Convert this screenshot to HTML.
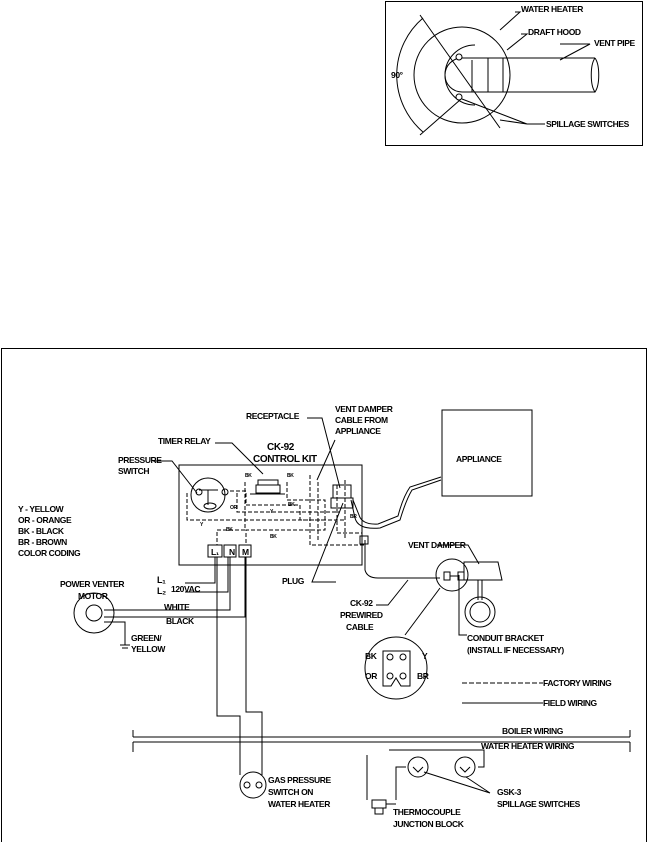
<!DOCTYPE html>
<html><head><meta charset="utf-8"><style>
html,body{margin:0;padding:0;background:#fff}
svg{display:block}
text{font-family:"Liberation Sans",sans-serif;font-weight:bold;font-size:8.5px;fill:#000;letter-spacing:-0.4px}
</style></head><body>
<svg width="649" height="842" viewBox="0 0 649 842" xmlns="http://www.w3.org/2000/svg" fill="none" stroke="#000" stroke-width="1">
<!-- top inset -->
<rect x="385.5" y="1.5" width="257" height="144"/>
<circle cx="462" cy="75" r="48"/>
<path d="M475 45 A30 30 0 1 0 475 105"/>
<path d="M472 60 L472 92 M462 58 A17 17 0 0 0 462 92 M462 58 H595 M462 92 H595 M488 58 V92 M503 58 V92"/>
<path d="M595 58 C590 65 590 85 595 92 C600 85 600 65 595 58"/>
<path d="M420 15 L500 128 M420 135 L460 100"/>
<path d="M423 18 A75 75 0 0 0 423 132"/>
<circle cx="459" cy="57" r="3" fill="#fff"/><circle cx="459" cy="97" r="3" fill="#fff"/>
<path d="M462 99 L527 124 L500 120 M527 124 H545 M515 12 H520 L500 30 M521 34 H527 L507 50 M560 44 H590 L560 60"/>
<g stroke="none">
<text x="521" y="12">WATER HEATER</text>
<text x="528" y="35">DRAFT HOOD</text>
<text x="594" y="46">VENT PIPE</text>
<text x="546" y="127">SPILLAGE SWITCHES</text>
<text x="391" y="78">90°</text>
</g>
<!-- main frame -->
<path d="M1.5 842 V348.5 H646.5 V842"/>
<!-- control kit -->
<rect x="179" y="465" width="183" height="100"/>
<rect x="442" y="410" width="90" height="86"/>
<g stroke="none">
<text x="246" y="419">RECEPTACLE</text>
<text x="335" y="412">VENT DAMPER</text>
<text x="335" y="423">CABLE FROM</text>
<text x="335" y="434">APPLIANCE</text>
<text x="158" y="444">TIMER RELAY</text>
<text x="267" y="450" style="font-size:10px">CK-92</text>
<text x="253" y="462" style="font-size:10px">CONTROL KIT</text>
<text x="118" y="463">PRESSURE</text>
<text x="118" y="474">SWITCH</text>
<text x="456" y="462">APPLIANCE</text>
<text x="18" y="512">Y - YELLOW</text>
<text x="18" y="523">OR - ORANGE</text>
<text x="18" y="534">BK - BLACK</text>
<text x="18" y="545">BR - BROWN</text>
<text x="18" y="556">COLOR CODING</text>
<text x="60" y="587">POWER VENTER</text>
<text x="78" y="599">MOTOR</text>
<text x="157" y="583" style="font-size:9px">L₁</text>
<text x="157" y="594" style="font-size:9px">L₂</text>
<text x="171" y="592">120VAC</text>
<text x="164" y="610">WHITE</text>
<text x="166" y="624">BLACK</text>
<text x="131" y="641">GREEN/</text>
<text x="131" y="652">YELLOW</text>
<text x="282" y="584">PLUG</text>
<text x="408" y="548">VENT DAMPER</text>
<text x="350" y="606">CK-92</text>
<text x="340" y="618">PREWIRED</text>
<text x="346" y="630">CABLE</text>
<text x="467" y="641">CONDUIT BRACKET</text>
<text x="467" y="653">(INSTALL IF NECESSARY)</text>
<text x="543" y="686">FACTORY WIRING</text>
<text x="543" y="706">FIELD WIRING</text>
<text x="502" y="734">BOILER WIRING</text>
<text x="481" y="749">WATER HEATER WIRING</text>
<text x="268" y="783">GAS PRESSURE</text>
<text x="268" y="795">SWITCH ON</text>
<text x="268" y="807">WATER HEATER</text>
<text x="393" y="815">THERMOCOUPLE</text>
<text x="393" y="827">JUNCTION BLOCK</text>
<text x="497" y="795">GSK-3</text>
<text x="497" y="807">SPILLAGE SWITCHES</text>
<text x="365" y="659">BK</text><text x="422" y="659">Y</text>
<text x="365" y="679">OR</text><text x="417" y="679">BR</text>
<text x="211" y="555">L₁</text><text x="229" y="555">N</text><text x="242" y="555">M</text>
<text x="245" y="477" style="font-size:5px">BK</text><text x="287" y="477" style="font-size:5px">BK</text>
<text x="230" y="509" style="font-size:5px">OR</text><text x="288" y="506" style="font-size:5px">BK</text>
<text x="270" y="513" style="font-size:5px">Y</text><text x="200" y="526" style="font-size:5px">Y</text>
<text x="226" y="531" style="font-size:5px">BK</text><text x="270" y="538" style="font-size:5px">BK</text>
<text x="350" y="518" style="font-size:5px">BR</text>
</g>
<!-- leaders -->
<path d="M307 418 H322 L340 488 M335 440 L317 480 M215 443 H232 L263 474 M153 461 H172 L197 493 M336 582 H312 L343 503 M437 545 H468 L479 564 M376 605 H388 L408 580"/>
<!-- pressure switch -->
<circle cx="208" cy="495" r="17"/>
<path d="M199 490 L218 490 M208 490 V505"/><ellipse cx="210" cy="506" rx="6" ry="3"/>
<circle cx="199" cy="492" r="3"/><circle cx="225" cy="492" r="3"/>
<!-- relay -->
<rect x="258" y="480" width="20" height="5"/><rect x="256" y="485" width="24" height="8"/><path d="M250 494 H285"/>
<!-- receptacle -->
<rect x="333" y="485" width="18" height="13"/><rect x="331" y="498" width="22" height="10"/>
<!-- terminals -->
<rect x="208" y="545" width="14" height="12"/><rect x="224" y="545" width="12" height="12"/><rect x="239" y="545" width="12" height="12"/>
<!-- dashed wiring -->
<g stroke-dasharray="4,2">
<path d="M187 493 V520 H345 M245 482 V530 H217 V545 M287 482 V500 H325 V530 H246 V545 M237 493 V512 H340 M230 491 H246 V505 H300 V520 H325 M310 475 V545 H365 M318 482 V540 M345 480 V540 M337 485 V533 H362"/>
</g>
<!-- cables -->
<path d="M351 500 L355 518 Q358 530 380 528 L400 520 Q406 500 412 490 L441 480"/>
<path d="M353 500 L359 515 Q362 525 378 524 L398 516 Q403 497 410 487 L441 477"/>
<path d="M365 540 V570 Q367 578 378 578 H440"/>
<rect x="360" y="536" width="8" height="8"/>
<!-- vent damper -->
<circle cx="452" cy="575" r="16"/>
<rect x="444" y="572" width="6" height="8"/><path d="M450 576 H458"/><rect x="458" y="572" width="6" height="8"/>
<path d="M464 562 H498 L502 580 H464 Z"/>
<path d="M478 580 V600 M482 580 V600"/>
<circle cx="480" cy="612" r="15"/><circle cx="480" cy="612" r="10"/>
<path d="M459 575 V635 H467"/>
<path d="M440 588 L405 635"/>
<!-- connector detail -->
<circle cx="396" cy="668" r="31"/>
<path d="M383 651 H410 V686 H401 L396 678 L391 686 H383 Z"/>
<circle cx="390" cy="657" r="3"/><circle cx="403" cy="657" r="3"/><circle cx="390" cy="676" r="3"/><circle cx="403" cy="676" r="3"/>
<!-- legend lines -->
<path d="M462 683 H543" stroke-dasharray="5,2"/><path d="M462 703 H543"/>
<!-- boiler/water heater lines -->
<path d="M133 737 H630 M133 742 H630 M133 730 V737 M630 730 V737 M133 742 V752 M630 742 V752"/>
<!-- motor -->
<circle cx="94" cy="613" r="20"/><circle cx="94" cy="613" r="8"/>
<path d="M104 610 H230 V557 M104 617 H245 V557 M104 622 H125 V645 M120 645 H130 M122 648 H128"/>
<path d="M185 583 H215 V557 M185 592 H228 V557"/>
<!-- field wires down -->
<path d="M217 557 V716 H240 V775 M246 557 V712 H262 V775"/>
<circle cx="253" cy="785" r="13"/><circle cx="247" cy="785" r="3"/><circle cx="259" cy="785" r="3"/>
<!-- spillage switches -->
<path d="M367 755 V800 M389 750 H484 V767 H478 M406 767 H396 V800"/>
<circle cx="418" cy="767" r="10"/><circle cx="465" cy="767" r="10"/>
<path d="M413 767 L418 772 L423 767 M460 767 L465 772 L470 767"/>
<rect x="372" y="800" width="14" height="8"/><rect x="375" y="808" width="8" height="6"/>
<path d="M386 804 H396 M490 793 L466 777 M490 793 L424 772"/>
</svg>
</body></html>
